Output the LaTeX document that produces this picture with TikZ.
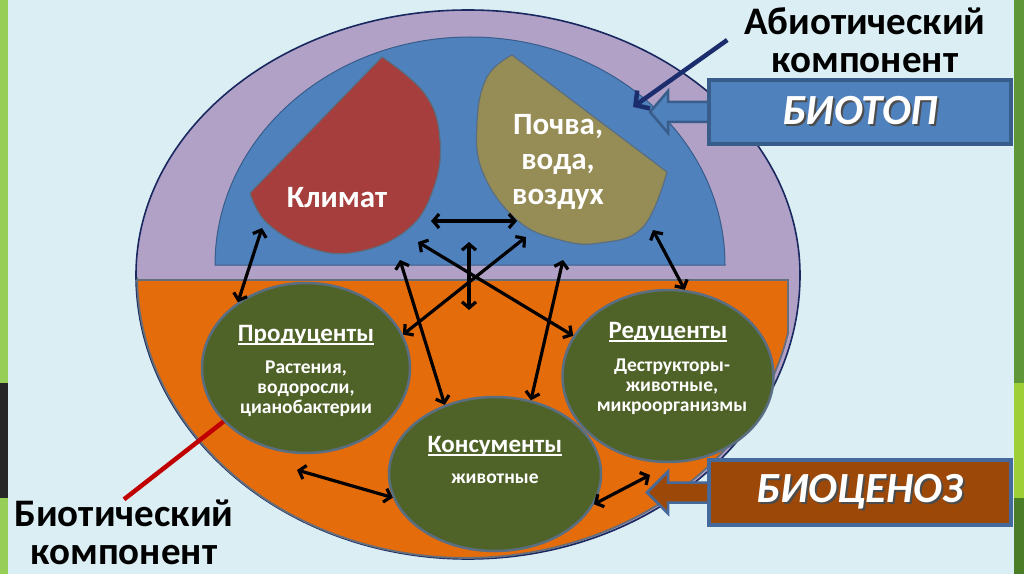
\documentclass[tikz,border=0pt]{standalone}
\usepackage{fontspec}
\setmainfont{Carlito}
\usetikzlibrary{arrows.meta,shapes.geometric}

\definecolor{bgblue}{RGB}{219,238,244}
\definecolor{stripgreen}{RGB}{150,206,88}
\definecolor{stripdark}{RGB}{38,38,38}
\definecolor{rightgreen}{RGB}{95,150,55}
\definecolor{rightlight}{RGB}{158,207,55}
\definecolor{rightdark}{RGB}{75,125,40}
\definecolor{lilac}{RGB}{178,161,199}
\definecolor{navyedge}{RGB}{25,40,95}
\definecolor{biotopblue}{RGB}{79,129,189}
\definecolor{biotopedge}{RGB}{56,93,138}
\definecolor{biocorange}{RGB}{228,108,10}
\definecolor{orangeedge}{RGB}{100,110,125}
\definecolor{climred}{RGB}{165,62,60}
\definecolor{soilolive}{RGB}{150,140,85}
\definecolor{darkolive}{RGB}{79,98,40}
\definecolor{circedge}{RGB}{90,110,130}
\definecolor{cenozbrown}{RGB}{155,72,8}
\definecolor{cenozedge}{RGB}{70,105,155}
\definecolor{navyarrow}{RGB}{28,45,110}
\definecolor{bioticred}{RGB}{192,0,0}

\newcommand{\shadowtext}[1]{\makebox[0pt][l]{\hspace{2pt}\raisebox{-2pt}{\textcolor{black!70}{#1}}}#1}
\newcommand{\ulhead}[1]{\setbox0\hbox{#1}\rlap{\rule[-3.5pt]{\wd0}{1.4pt}}\box0}

\begin{document}
\begin{tikzpicture}[x=1pt,y=1pt]
 \tikzset{link/.style={<->,>={Straight Barb[length=6pt,width=14pt]},line width=3.2pt}}
 \tikzset{circ/.style={ellipse,draw=circedge,line width=2.5pt,fill=darkolive,inner sep=0pt}}
 \tikzset{head/.style={text=white,font=\bfseries\fontsize{25}{27}\selectfont,inner sep=0pt}}
 \tikzset{sub/.style={text=white,align=center,font=\bfseries\fontsize{19.5}{20}\selectfont,inner sep=0pt}}
 \tikzset{abtext/.style={text=white,align=center,font=\bfseries\fontsize{31}{35}\selectfont,inner sep=0pt}}
 \tikzset{lbl/.style={align=center,font=\bfseries\fontsize{39}{38}\selectfont,inner sep=0pt}}
 \tikzset{biobox/.style={rectangle,minimum width=302pt,inner sep=0pt,line width=4pt,text=white,font=\bfseries\itshape\fontsize{43}{43}\selectfont}}
 \tikzset{shapeedge/.style={draw=circedge,line width=1.2pt}}
  \useasboundingbox (0,0) rectangle (1024,574);
  \fill[bgblue] (0,0) rectangle (1024,574);
  \fill[stripgreen] (0,191) rectangle (8,574);
  \fill[stripdark] (0,76) rectangle (8,191);
  \fill[stripgreen] (0,0) rectangle (8,76);
  \fill[rightgreen] (1014,191) rectangle (1024,574);
  \fill[rightlight] (1014,76) rectangle (1024,191);
  \fill[rightdark] (1014,0) rectangle (1024,76);
  % ecosystem
  \draw[navyedge,line width=1.6pt,fill=lilac] (136,299) arc[start angle=180,end angle=0,x radius=332pt,y radius=265pt]
    arc[start angle=0,end angle=-180,x radius=332pt,y radius=284pt] -- cycle;
  \draw[biotopedge,line width=1pt,fill=biotopblue] (215,309) arc[start angle=180,end angle=0,x radius=255pt,y radius=228pt] -- cycle;
  \draw[orangeedge,line width=1.8pt,fill=biocorange] (137,294) -- (788,294) -- (788,241)
    arc[start angle=-11.85,end angle=-178.99,x radius=329pt,y radius=283pt] -- cycle;
  \draw[shapeedge,fill=climred] plot[smooth,tension=0.7] coordinates {(382,517) (425,480) (440,434) (433,384) (407,344) (357,322) (310,326) (267,351) (250,381)} -- cycle;
  \draw[shapeedge,fill=soilolive] plot[smooth,tension=0.7] coordinates {(512,519) (487,497) (477,451) (483,401) (517,354) (560,334) (600,331) (643,347) (667,402)} -- cycle;
  \node[abtext] (klimat) at (337,376) {Климат};
  \node[abtext] (soil) at (558,412) {Почва,\\вода,\\воздух};
  \node[circ,minimum width=208pt,minimum height=170pt] (prod) at (306,206) {};
  \node[circ,minimum width=211pt,minimum height=172pt] (redu) at (668,198) {};
  \node[circ,minimum width=212pt,minimum height=154pt] (kons) at (495,100) {};
  \node[head] (prod-t) at ([yshift=33pt]prod.center) {\ulhead{Продуценты}};
  \node[sub] (prod-s) at ([yshift=-21pt]prod.center) {Растения,\\водоросли,\\цианобактерии};
  \node[head] (redu-t) at ([yshift=44pt]redu.center) {\ulhead{Редуценты}};
  \node[sub] (redu-s) at ([xshift=4pt,yshift=-11pt]redu.center) {Деструкторы-\\животные,\\микроорганизмы};
  \node[head] (kons-t) at ([yshift=28pt]kons.center) {\ulhead{Консументы}};
  \node[sub] (kons-s) at ([yshift=-5pt]kons.center) {животные};
  % links
  \coordinate (klim-a) at (262,346);
  \coordinate (klim-b) at (431,353);
  \coordinate (soil-b) at (517,353);
  \coordinate (soil-f) at (653,344);
  \coordinate (hub-a) at (418,332);
  \coordinate (hub-b) at (526,337);
  \coordinate (hub-c) at (469,332);
  \coordinate (low-c) at (469,264);
  \coordinate (hub-d) at (400,314);
  \coordinate (hub-e) at (563,314);
  \coordinate (gap-g) at (297,104);
  \coordinate (gap-h) at (650,99);
  \draw[link] (klim-a) -- (prod.136);
  \draw[link] (klim-b) -- (soil-b);
  \draw[link] (hub-a) -- (redu.157);
  \draw[link] (hub-b) -- (prod.19);
  \draw[link] (hub-c) -- (low-c);
  \draw[link] (hub-d) -- (kons.126);
  \draw[link] (hub-e) -- (kons.64);
  \draw[link] (soil-f) -- (redu.79);
  \draw[link] (gap-g) -- (kons.193);
  \draw[link] (kons.-17) -- (gap-h);
  % boxes
  \node[biobox,minimum height=64pt,fill=biotopblue,draw=biotopedge] (biotop) at (860,462) {\shadowtext{БИОТОП}};
  \draw[biotopedge,fill=biotopblue,line width=2.5pt] ([yshift=10pt]biotop.west) -- ++(-39,0) -- ++(0,11) -- ++(-18,-21) -- ++(18,-21) -- ++(0,11) -- ++(39,0);
  \node[biobox,minimum height=65pt,fill=cenozbrown,draw=cenozedge] (biocenoz) at (860,81.5) {\shadowtext{БИОЦЕНОЗ}};
  \draw[cenozedge,fill=cenozbrown,line width=2.5pt] ([yshift=10pt]biocenoz.west) -- ++(-39,0) -- ++(0,11) -- ++(-21,-21) -- ++(21,-21) -- ++(0,11) -- ++(39,0);
  % labels
  \node[lbl] (abio) at (865,534) {Абиотический\\компонент};
  \node[lbl] (bio) at (124,42) {Биотический\\компонент};
  \coordinate (abio-tip) at (633,467);
  \draw[navyarrow,line width=4.5pt,-{Straight Barb[length=10pt,width=22pt]}] ([xshift=-17pt]abio.west) -- (abio-tip);
  \draw[bioticred,line width=4.5pt] (bio.north) -- (prod.213);
\end{tikzpicture}
\end{document}
